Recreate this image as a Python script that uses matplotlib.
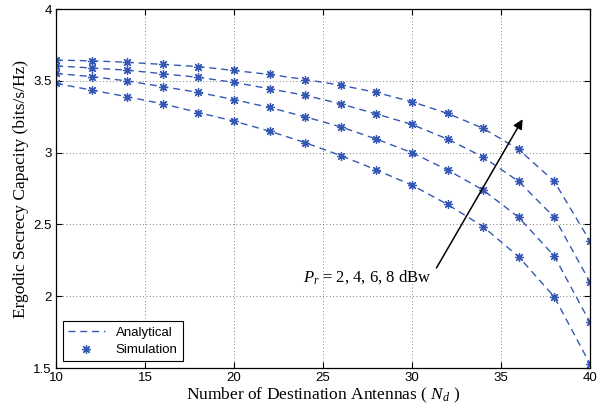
import matplotlib
matplotlib.use("Agg")
import matplotlib.pyplot as plt

N_D = [10, 12, 14, 16, 18, 20, 22, 24, 26, 28, 30, 32, 34, 36, 38, 40]
CAP_8DBW = [3.645, 3.64, 3.63, 3.615, 3.60, 3.573, 3.545, 3.51, 3.47, 3.42,
            3.355, 3.274, 3.17, 3.023, 2.80, 2.386]
CAP_6DBW = [3.605, 3.59, 3.575, 3.55, 3.525, 3.49, 3.445, 3.40, 3.34, 3.27,
            3.197, 3.095, 2.97, 2.80, 2.55, 2.10]
CAP_4DBW = [3.552, 3.53, 3.50, 3.46, 3.42, 3.37, 3.315, 3.25, 3.18, 3.095,
            3.0, 2.88, 2.74, 2.55, 2.28, 1.82]
CAP_2DBW = [3.483, 3.436, 3.39, 3.34, 3.28, 3.22, 3.15, 3.07, 2.98, 2.88,
            2.774, 2.64, 2.485, 2.275, 1.996, 1.53]
SERIES = [CAP_8DBW, CAP_6DBW, CAP_4DBW, CAP_2DBW]

BLUE = "#3558b5"
SERIF = "Liberation Serif"
SANS = "Liberation Sans"
STAR = (8, 2, 0)

plt.rcParams["mathtext.fontset"] = "custom"
plt.rcParams["mathtext.rm"] = "Liberation Serif"
plt.rcParams["mathtext.it"] = "Liberation Serif:italic"

fig = plt.figure(figsize=(5.97, 4.17), dpi=100)
ax = fig.add_axes([0.094, 0.1175, 0.894, 0.8605])

for i, ys in enumerate(SERIES):
    ax.plot(N_D, ys, ls=(0, (5, 3.5)), color=BLUE, lw=1.0,
            label="Analytical" if i == 0 else None)
    ax.plot(N_D, ys, ls="none", marker=STAR, ms=6.5, mew=0.9, color=BLUE,
            label="Simulation" if i == 0 else None)

ax.set_xlim(10, 40)
ax.set_ylim(1.5, 4)
ax.set_xticks([10, 15, 20, 25, 30, 35, 40])
ax.set_yticks([1.5, 2, 2.5, 3, 3.5, 4])
ax.set_yticklabels(["1.5", "2", "2.5", "3", "3.5", "4"])
ax.tick_params(direction="in", length=4, width=0.8, top=True, right=True,
               labelsize=9.5, pad=3)
for lab in ax.get_xticklabels() + ax.get_yticklabels():
    lab.set_fontfamily(SANS)
for s in ax.spines.values():
    s.set_linewidth(0.9)
ax.grid(True, ls=(0, (1, 3)), color="#555555", lw=0.6)

ax.set_xlabel("Number of Destination Antennas ( $N_d$ )", fontfamily=SERIF,
              fontsize=12.5, labelpad=1)
ax.set_ylabel("Ergodic Secrecy Capacity (bits/s/Hz)", fontfamily=SERIF,
              fontsize=12.5, labelpad=3)

ax.annotate("", xy=(36.3, 3.25), xytext=(31.3, 2.18),
            arrowprops=dict(arrowstyle="-|>", color="black", lw=1.1,
                            mutation_scale=14))
ax.text(23.9, 2.13, "$P_r$ = 2, 4, 6, 8 dBw", fontfamily=SERIF, fontsize=12,
        va="center", ha="left")

leg = ax.legend(loc="lower left", prop={"family": SANS, "size": 9.5},
                fancybox=False, edgecolor="black", framealpha=1,
                borderaxespad=0.5, handlelength=2.8, labelspacing=0.4)
leg.get_frame().set_linewidth(0.8)

fig.savefig("out.png", dpi=100)
